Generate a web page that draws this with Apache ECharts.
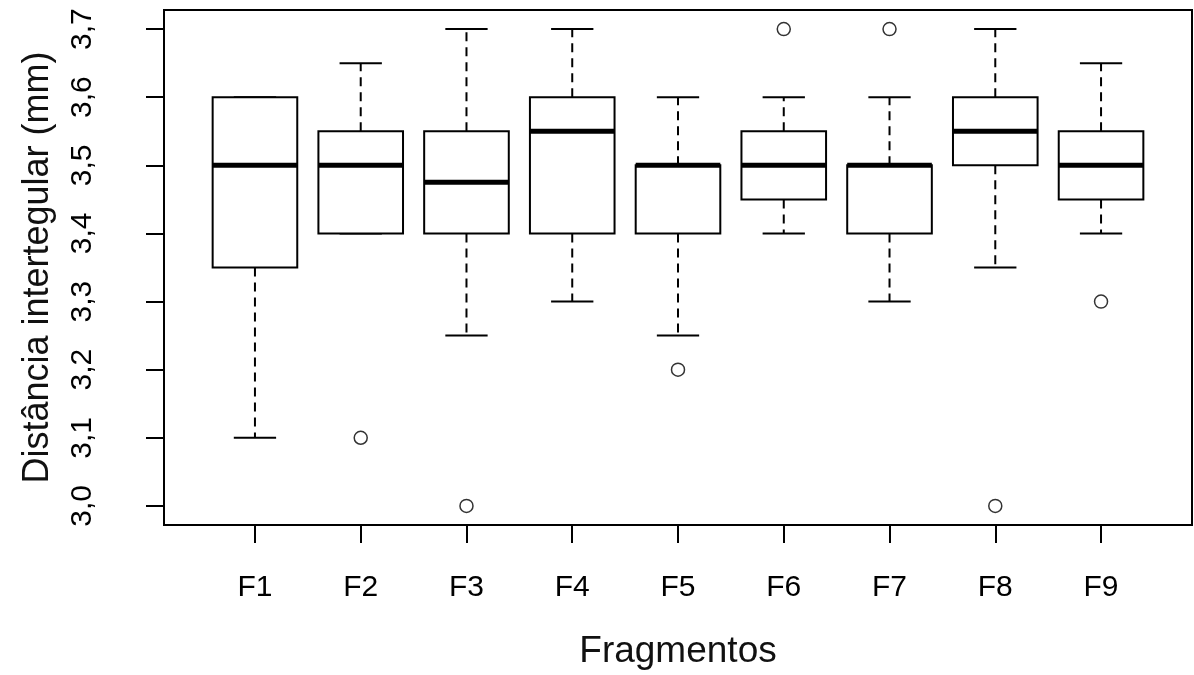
<!DOCTYPE html>
<html>
<head>
<meta charset="utf-8">
<script src="https://cdn.jsdelivr.net/npm/echarts@6/dist/echarts.min.js"></script>
<style>
  html, body { margin: 0; padding: 0; background: #fff; }
  #chart { width: 1194px; height: 675px; }
</style>
</head>
<body>
<div id="chart"></div>
<script>
// Fragment groups
const categories = ['F1', 'F2', 'F3', 'F4', 'F5', 'F6', 'F7', 'F8', 'F9'];

// Five-number summaries per fragment (mm)
const whiskerLow  = [3.10, 3.40, 3.25, 3.30, 3.25, 3.40, 3.30, 3.35, 3.40];
const quartile1   = [3.35, 3.40, 3.40, 3.40, 3.40, 3.45, 3.40, 3.50, 3.45];
const medians     = [3.50, 3.50, 3.475, 3.55, 3.50, 3.50, 3.50, 3.55, 3.50];
const quartile3   = [3.60, 3.55, 3.55, 3.60, 3.50, 3.55, 3.50, 3.60, 3.55];
const whiskerHigh = [3.60, 3.65, 3.70, 3.70, 3.60, 3.60, 3.60, 3.70, 3.65];

// Outlying observations
const outlierGroups = ['F2', 'F3', 'F5', 'F6', 'F7', 'F8', 'F9'];
const outlierValues = [3.1, 3.0, 3.2, 3.7, 3.7, 3.0, 3.3];

// Y axis tick values
const yTicks = [3.0, 3.1, 3.2, 3.3, 3.4, 3.5, 3.6, 3.7];

// Axis ranges padded by 4% like a classic statistics plot
const ySpan = yTicks[yTicks.length - 1] - yTicks[0];
const yMin = yTicks[0] - 0.04 * ySpan;
const yMax = yTicks[yTicks.length - 1] + 0.04 * ySpan;
const xLo = 0.5, xHi = categories.length + 0.5;
const xPad = 0.04 * (xHi - xLo);

const boxData = categories.map((c, i) => [i + 1, whiskerLow[i], quartile1[i], medians[i], quartile3[i], whiskerHigh[i]]);
const outlierData = outlierGroups.map((g, i) => [categories.indexOf(g) + 1, outlierValues[i]]);
const xTickValues = categories.map((c, i) => i + 1);

const BOX_WIDTH = 0.8;
const CAP_WIDTH = 0.4;

// Box, thick median, dashed whiskers and solid staples for one group
function renderBox(params, api) {
  const x = api.value(0);
  const low = api.value(1), q1 = api.value(2), med = api.value(3), q3 = api.value(4), high = api.value(5);
  const half = api.size([BOX_WIDTH, 0])[0] / 2;
  const capHalf = api.size([CAP_WIDTH, 0])[0] / 2;
  const pLow = api.coord([x, low]);
  const pQ1 = api.coord([x, q1]);
  const pMed = api.coord([x, med]);
  const pQ3 = api.coord([x, q3]);
  const pHigh = api.coord([x, high]);
  const cx = pMed[0];
  const solid = { stroke: '#000', lineWidth: 2, fill: null };
  const dashed = { stroke: '#000', lineWidth: 2, lineDash: [9, 6], fill: null };
  const children = [];
  if (high > q3) {
    children.push({ type: 'line', shape: { x1: cx, y1: pQ3[1], x2: cx, y2: pHigh[1] }, style: dashed });
  }
  if (low < q1) {
    children.push({ type: 'line', shape: { x1: cx, y1: pQ1[1], x2: cx, y2: pLow[1] }, style: dashed });
  }
  children.push({ type: 'line', shape: { x1: cx - capHalf, y1: pHigh[1], x2: cx + capHalf, y2: pHigh[1] }, style: solid });
  children.push({ type: 'line', shape: { x1: cx - capHalf, y1: pLow[1], x2: cx + capHalf, y2: pLow[1] }, style: solid });
  children.push({
    type: 'rect',
    shape: { x: cx - half, y: pQ3[1], width: half * 2, height: pQ1[1] - pQ3[1] },
    style: { stroke: '#000', lineWidth: 2, fill: '#fff' }
  });
  children.push({ type: 'line', shape: { x1: cx - half, y1: pMed[1], x2: cx + half, y2: pMed[1] }, style: { stroke: '#000', lineWidth: 5 } });
  return { type: 'group', children: children };
}

const FONT = "'Liberation Sans', Arial, sans-serif";

const chart = echarts.init(document.getElementById('chart'), null, { renderer: 'canvas' });
chart.setOption({
  animation: false,
  backgroundColor: '#fff',
  grid: {
    left: 164, right: 2, top: 10, bottom: 148,
    show: true, borderColor: '#000', borderWidth: 2, backgroundColor: 'transparent'
  },
  xAxis: {
    type: 'value',
    min: xLo - xPad,
    max: xHi + xPad,
    name: 'Fragmentos',
    nameLocation: 'middle',
    nameGap: 108,
    nameTextStyle: { fontFamily: FONT, fontSize: 37, color: '#111' },
    axisLine: { show: false },
    splitLine: { show: false },
    axisTick: { show: true, length: 18, customValues: xTickValues, lineStyle: { color: '#000', width: 2 } },
    axisLabel: {
      customValues: xTickValues,
      margin: 48,
      fontFamily: FONT, fontSize: 30, color: '#000',
      formatter: v => categories[Math.round(v) - 1]
    }
  },
  yAxis: {
    type: 'value',
    min: yMin,
    max: yMax,
    name: 'Distância intertegular (mm)',
    nameLocation: 'middle',
    nameGap: 108,
    nameRotate: 90,
    nameTextStyle: { fontFamily: FONT, fontSize: 36, color: '#111' },
    axisLine: { show: false },
    splitLine: { show: false },
    axisTick: { show: true, length: 18, customValues: yTicks, lineStyle: { color: '#000', width: 2 } },
    axisLabel: {
      customValues: yTicks,
      rotate: 90,
      margin: 66,
      fontFamily: FONT, fontSize: 30, color: '#000',
      formatter: v => v.toFixed(1).replace('.', ',')
    }
  },
  series: [
    {
      type: 'custom',
      renderItem: renderBox,
      data: boxData,
      encode: { x: 0, y: [1, 2, 3, 4, 5] },
      silent: true
    },
    {
      type: 'scatter',
      data: outlierData,
      symbol: 'circle',
      symbolSize: 13,
      silent: true,
      itemStyle: { color: '#fff', borderColor: '#000', borderWidth: 1.5 }
    }
  ]
});
</script>
</body>
</html>
